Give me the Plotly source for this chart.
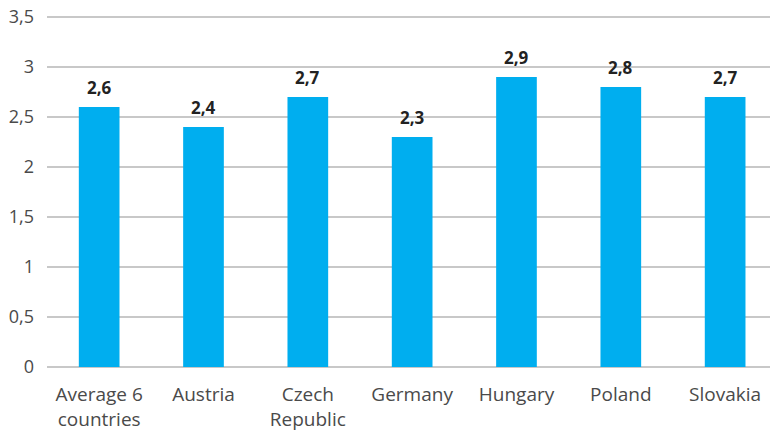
import plotly.graph_objects as go

categories = ["Average 6<br>countries", "Austria", "Czech<br>Republic", "Germany", "Hungary", "Poland", "Slovakia"]
values = [2.6, 2.4, 2.7, 2.3, 2.9, 2.8, 2.7]
value_labels = ["2,6", "2,4", "2,7", "2,3", "2,9", "2,8", "2,7"]
y_ticks = [0, 0.5, 1, 1.5, 2, 2.5, 3, 3.5]
y_tick_labels = ["0", "0,5", "1", "1,5", "2", "2,5", "3", "3,5"]

xs = list(range(len(categories)))

fig = go.Figure(go.Bar(
    x=xs,
    y=values,
    marker=dict(color="#00AEEF", line=dict(width=0)),
    width=0.39,
    hoverinfo="skip",
))

for x, v, lab in zip(xs, values, value_labels):
    fig.add_annotation(
        x=x, y=v, text="<b>" + lab + "</b>", showarrow=False,
        yanchor="bottom", yshift=6,
        font=dict(family="Open Sans", size=17, color="#222222"),
    )

fig.update_layout(
    width=770, height=433,
    margin=dict(l=47, r=0, t=15, b=66, autoexpand=False),
    plot_bgcolor="white", paper_bgcolor="white",
    separators=", ",
    showlegend=False,
    font=dict(family="Open Sans", size=19, color="#4a4a4a"),
)
fig.update_xaxes(
    tickmode="array", tickvals=xs, ticktext=categories,
    range=[-0.5, 6.43], showgrid=False, zeroline=False, showline=False,
    ticks="", ticklabelstandoff=14, automargin=False,
    ticklabeloverflow="allow",
    tickfont=dict(family="Open Sans", size=19, color="#4a4a4a"),
)
fig.update_yaxes(
    range=[0, 3.52], tickmode="array", tickvals=y_ticks, ticktext=y_tick_labels,
    showgrid=True, gridcolor="#C8C8C8", gridwidth=1.5,
    zeroline=True, zerolinecolor="#C8C8C8", zerolinewidth=1.5,
    showline=False, ticks="", ticklabelstandoff=12, automargin=False,
    ticklabeloverflow="allow",
    tickfont=dict(family="Open Sans", size=18, color="#4a4a4a"),
)

fig.write_html(
    "out.html",
    config={"displayModeBar": False, "staticPlot": True},
    post_script="document.body.style.margin='0';",
)
